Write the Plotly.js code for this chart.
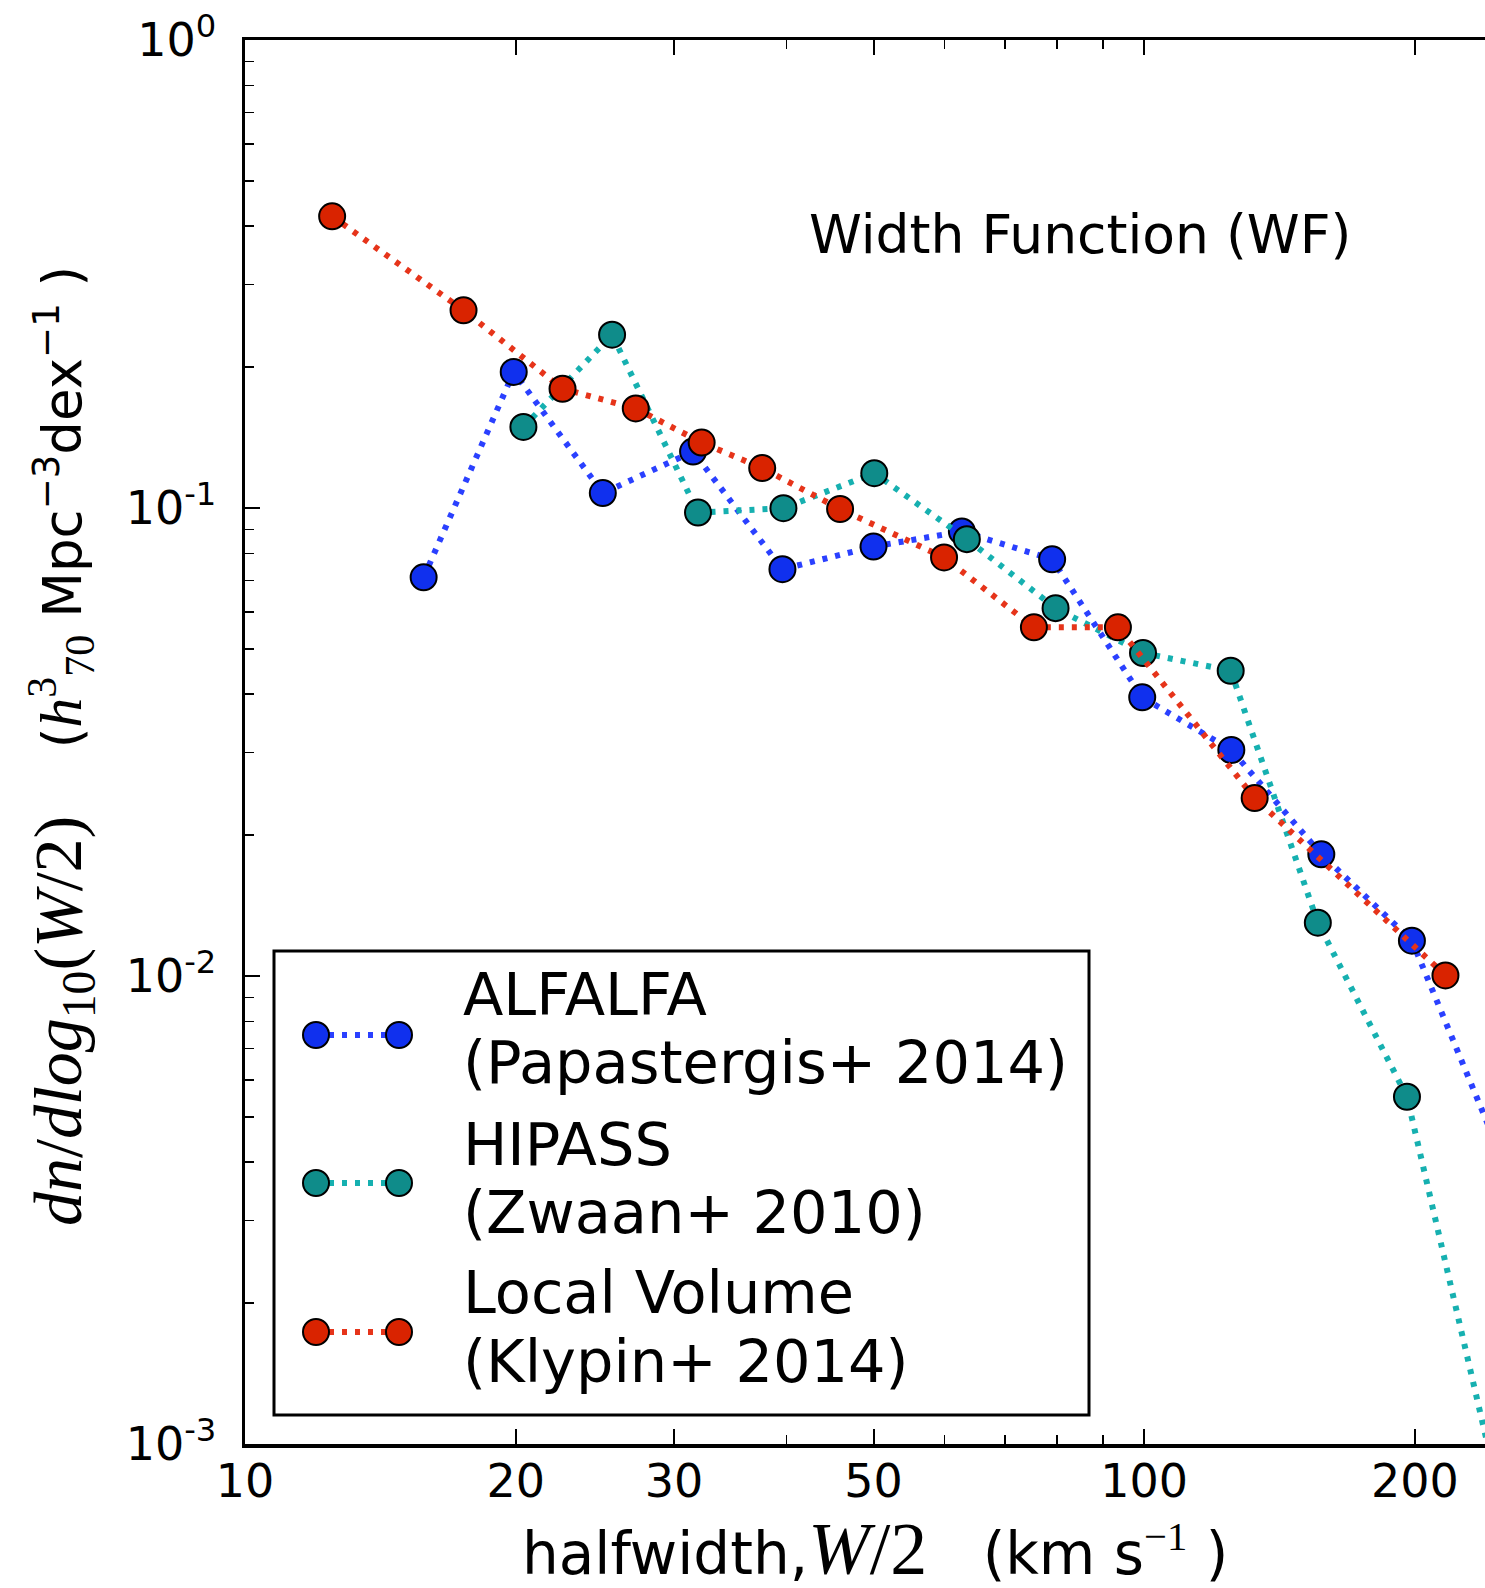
<!DOCTYPE html>
<html>
<head>
<meta charset="utf-8">
<script src="https://cdn.plot.ly/plotly-3.0.1.min.js"></script>
<style>
html,body{margin:0;padding:0;background:#fff;overflow:hidden;}
#wrap{width:1485px;height:1588px;overflow:hidden;position:relative;}
#plot{width:1560px;height:1588px;}
</style>
</head>
<body>
<div id="wrap"><div id="plot"></div></div>
<script>
// ---- data ----
const alfalfaW   = [15.8, 19.9, 25.0, 31.5, 39.6, 50.0, 62.7, 79.0, 99.5, 125, 157.4, 198.5, 251];
const alfalfaPhi = [0.0711, 0.1953, 0.1076, 0.132, 0.0740, 0.0827, 0.0891, 0.0777, 0.0394, 0.0304, 0.0182, 0.0119, 0.0040];

const hipassW    = [20.4, 25.6, 31.9, 39.7, 50.1, 63.5, 79.7, 99.7, 124.8, 156, 196, 246];
const hipassPhi  = [0.149, 0.2346, 0.0978, 0.0999, 0.1187, 0.0858, 0.0611, 0.0490, 0.0449, 0.0130, 0.00552, 0.00084];

const lvW        = [12.5, 17.5, 22.55, 27.2, 32.2, 37.6, 45.9, 59.9, 75.4, 93.5, 132.7, 216.3];
const lvPhi      = [0.420, 0.2645, 0.1798, 0.1632, 0.138, 0.1217, 0.0995, 0.0784, 0.0556, 0.0556, 0.0240, 0.01003];

const seriesNames = [["ALFALFA", "(Papastergis+ 2014)"], ["HIPASS", "(Zwaan+ 2010)"], ["Local Volume", "(Klypin+ 2014)"]];

const xTickVals  = [10, 20, 30, 50, 100, 200];
const xTickText  = ["10", "20", "30", "50", "100", "200"];
const xMinorVals = [40, 60, 70, 80, 90];
const yTickVals  = [1, 0.1, 0.01, 0.001];
const yTickText  = ["10<sup>0</sup>", "10<sup>-1</sup>", "10<sup>-2</sup>", "10<sup>-3</sup>"];
const yMinorVals = [0.002,0.003,0.004,0.005,0.006,0.007,0.008,0.009,
                    0.02,0.03,0.04,0.05,0.06,0.07,0.08,0.09,
                    0.2,0.3,0.4,0.5,0.6,0.7,0.8,0.9];

// ---- styles ----
const markerCols = ["#1030ee", "#0f8c8a", "#d92300"];
const lineCols   = ["#2a40ff", "#16b0b0", "#e6341a"];
const DASH = "5px,8px";

// ---- layout geometry ----
const W = 1560, H = 1588, ML = 245, MR = 58, MT = 40, MB = 144;
const PW = W - ML - MR, PH = H - MT - MB;
const px = x => (x - ML) / PW;
const py = y => (H - MB - y) / PH;

function series(x, y, i) {
  return {
    x: x, y: y, mode: "lines+markers", type: "scatter", showlegend: false,
    xaxis: "x", yaxis: "y", cliponaxis: true,
    line: {color: lineCols[i], width: 6, dash: DASH},
    marker: {size: 26, color: markerCols[i], line: {color: "#000", width: 2}}
  };
}

const traces = [
  series(alfalfaW, alfalfaPhi, 0),
  series(hipassW, hipassPhi, 1),
  series(lvW, lvPhi, 2)
];

// legend keys on an overlay axis (0..1)
const keyY = [py(1035), py(1183), py(1332)];
const keyX = [px(316), px(399)];
for (let i = 0; i < 3; i++) {
  traces.push({
    x: keyX, y: [keyY[i], keyY[i]], mode: "lines+markers", type: "scatter",
    showlegend: false, xaxis: "x2", yaxis: "y2", hoverinfo: "skip",
    line: {color: lineCols[i], width: 6, dash: DASH},
    marker: {size: 26, color: markerCols[i], line: {color: "#000", width: 2}}
  });
}

const FONT = "DejaVu Sans";
const SERIF = "'Liberation Serif'";
const nb = "\u00a0";

const annotations = [];
function ann(text, x, y, size, opts) {
  annotations.push(Object.assign({
    text: text, xref: "paper", yref: "paper", x: px(x), y: py(y),
    xanchor: "left", yanchor: "middle", showarrow: false,
    font: {family: FONT, size: size, color: "#000"}
  }, opts || {}));
}
// title inside plot
ann("Width Function (WF)", 1080, 234.5, 53.5, {xanchor: "center"});
// legend texts
const lineYs = [[994, 1062], [1144, 1212.5], [1292.5, 1361]];
for (let i = 0; i < 3; i++) {
  ann(seriesNames[i][0], 461, lineYs[i][0], 59);
  ann(seriesNames[i][1], 461, lineYs[i][1], 59);
}
// x axis title
ann('halfwidth,<span style="font-family:' + SERIF + ';font-size:74px"><i>W</i>/2</span>' + nb + nb + nb + '(km s<span style="font-family:' + SERIF + '"><sup>−1</sup></span>' + nb + ')',
    875, 1549, 58, {xanchor: "center"});
// y axis title
ann('<span style="font-family:' + SERIF + ';font-size:68px"><i>dn</i>/<i>dlog</i><sub>10</sub>(<i>W</i>/2)</span>' + nb + nb + nb + nb +
    '(<span style="font-family:' + SERIF + ';font-size:60px"><i>h</i><sup>3</sup><sub>70</sub></span>' + nb + 'Mpc<sup>−3</sup>dex<sup>−1</sup>' + nb + ')',
    62, 746, 53, {xanchor: "center", textangle: -90});

const axisCommon = {
  showline: true, linewidth: 3.5, linecolor: "#000", mirror: "ticks",
  ticks: "inside", ticklen: 15, tickwidth: 2, tickcolor: "#000",
  showgrid: false, zeroline: false, tickmode: "array",
  tickfont: {family: FONT, size: 46, color: "#000"}
};

const layout = {
  width: W, height: H,
  margin: {l: ML, r: MR, t: MT, b: MB, pad: 0},
  paper_bgcolor: "#fff", plot_bgcolor: "#fff",
  showlegend: false,
  xaxis: Object.assign({}, axisCommon, {
    type: "log", range: [1, Math.log10(250)],
    tickvals: xTickVals, ticktext: xTickText, ticklabelstandoff: -6,
    minor: {tickmode: "array", tickvals: xMinorVals, ticks: "inside", ticklen: 9, tickwidth: 1.5, tickcolor: "#000", showgrid: false}
  }),
  yaxis: Object.assign({}, axisCommon, {
    type: "log", range: [-3, 0],
    tickvals: yTickVals, ticktext: yTickText, ticklabelstandoff: 16,
    minor: {tickmode: "array", tickvals: yMinorVals, ticks: "inside", ticklen: 9, tickwidth: 1.5, tickcolor: "#000", showgrid: false}
  }),
  xaxis2: {overlaying: "x", anchor: "y2", range: [0, 1], visible: false, fixedrange: true},
  yaxis2: {overlaying: "y", anchor: "x2", range: [0, 1], visible: false, fixedrange: true},
  shapes: [{
    type: "rect", xref: "paper", yref: "paper", layer: "below",
    x0: px(274), x1: px(1089), y0: py(1415), y1: py(951),
    line: {color: "#000", width: 3}, fillcolor: "#fff"
  }],
  annotations: annotations
};

Plotly.newPlot("plot", traces, layout, {displayModeBar: false, staticPlot: true});
</script>
</body>
</html>
